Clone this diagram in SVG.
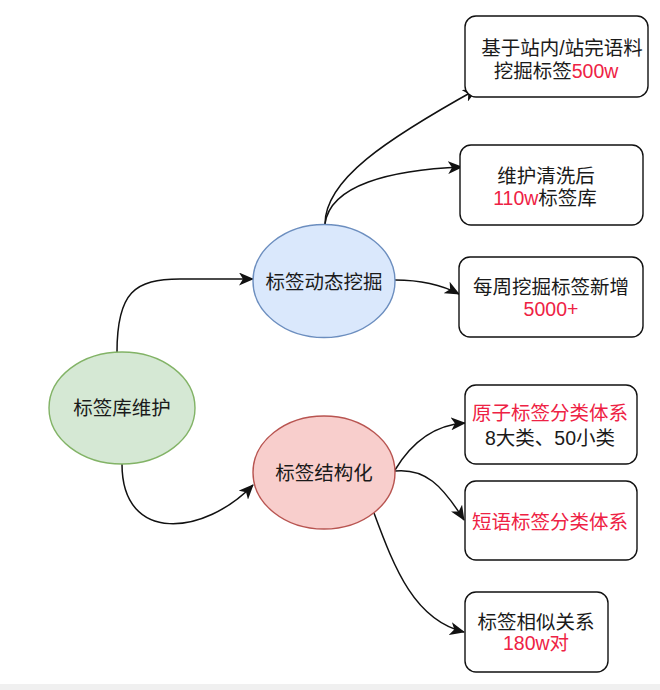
<svg xmlns="http://www.w3.org/2000/svg" width="660" height="690" viewBox="0 0 660 690">
<style>
text{font-family:"Liberation Sans","Noto Sans CJK SC",sans-serif;font-size:19.5px;fill:#1a1a1a;text-anchor:middle;dominant-baseline:central}
.r{fill:#ee2244}
.box{fill:#fff;stroke:#111;stroke-width:1.4}
.edge{fill:none;stroke:#111;stroke-width:1.5}
</style>
<defs>
<marker id="arr" viewBox="0 0 15 13" refX="14" refY="6.5" markerWidth="15" markerHeight="13" markerUnits="userSpaceOnUse" orient="auto">
<path d="M0,0 L15,6.5 L0,13 L4,6.5 z" fill="#111"/>
</marker>
</defs>
<rect width="660" height="690" fill="#fff"/>
<rect y="684" width="660" height="6" fill="#f0f0f0"/>
<g id="connectors">
<path class="edge" marker-end="url(#arr)" d="M117,352 C117,292 135,279 180,279 L253,279"/>
<path class="edge" marker-end="url(#arr)" d="M122,464 C122,545 205,535 253,485"/>
<path class="edge" marker-end="url(#arr)" d="M325,224 C325,180 385,140 477,89"/>
<path class="edge" marker-end="url(#arr)" d="M325,224 C330,185 390,170 462,167"/>
<path class="edge" marker-end="url(#arr)" d="M395,280 C420,280 440,284 459,294"/>
<path class="edge" marker-end="url(#arr)" d="M395,470 C410,445 432,425 465,423"/>
<path class="edge" marker-end="url(#arr)" d="M395,471 C425,468 442,485 464,520"/>
<path class="edge" marker-end="url(#arr)" d="M374,513 C395,570 415,620 464,632"/>
</g>
<g id="n-root">
<ellipse cx="122" cy="408" rx="73" ry="56" fill="#d5e8d4" stroke="#82b366" stroke-width="1.4"/>
<text x="122" y="408">标签库维护</text>
</g>
<g id="n-mining">
<ellipse cx="324" cy="281" rx="71" ry="56.5" fill="#dae8fc" stroke="#6c8ebf" stroke-width="1.4"/>
<text x="324" y="282">标签动态挖掘</text>
</g>
<g id="n-struct">
<ellipse cx="324" cy="472.5" rx="71" ry="56.5" fill="#f8cecc" stroke="#b85450" stroke-width="1.4"/>
<text x="324" y="473">标签结构化</text>
</g>
<g id="n-b1">
<rect class="box" x="465" y="16" width="183" height="81" rx="11"/>
<text x="562" y="48">基于站内/站完语料</text>
<text x="556" y="71">挖掘标签<tspan class="r">500w</tspan></text>
</g>
<g id="n-b2">
<rect class="box" x="460" y="145" width="183" height="80" rx="11"/>
<text x="546" y="176">维护清洗后</text>
<text x="545" y="198"><tspan class="r">110w</tspan>标签库</text>
</g>
<g id="n-b3">
<rect class="box" x="459" y="257" width="184" height="80" rx="11"/>
<text x="551" y="287">每周挖掘标签新增</text>
<text class="r" x="551" y="309">5000+</text>
</g>
<g id="n-b4">
<rect class="box" x="465" y="385" width="172" height="79" rx="11"/>
<text class="r" x="550" y="413">原子标签分类体系</text>
<text x="550" y="438">8大类、50小类</text>
</g>
<g id="n-b5">
<rect class="box" x="465" y="481" width="172" height="79" rx="11"/>
<text class="r" x="550" y="522">短语标签分类体系</text>
</g>
<g id="n-b6">
<rect class="box" x="465" y="592" width="143" height="80" rx="11"/>
<text x="536" y="622">标签相似关系</text>
<text class="r" x="536" y="643">180w对</text>
</g>
</svg>
